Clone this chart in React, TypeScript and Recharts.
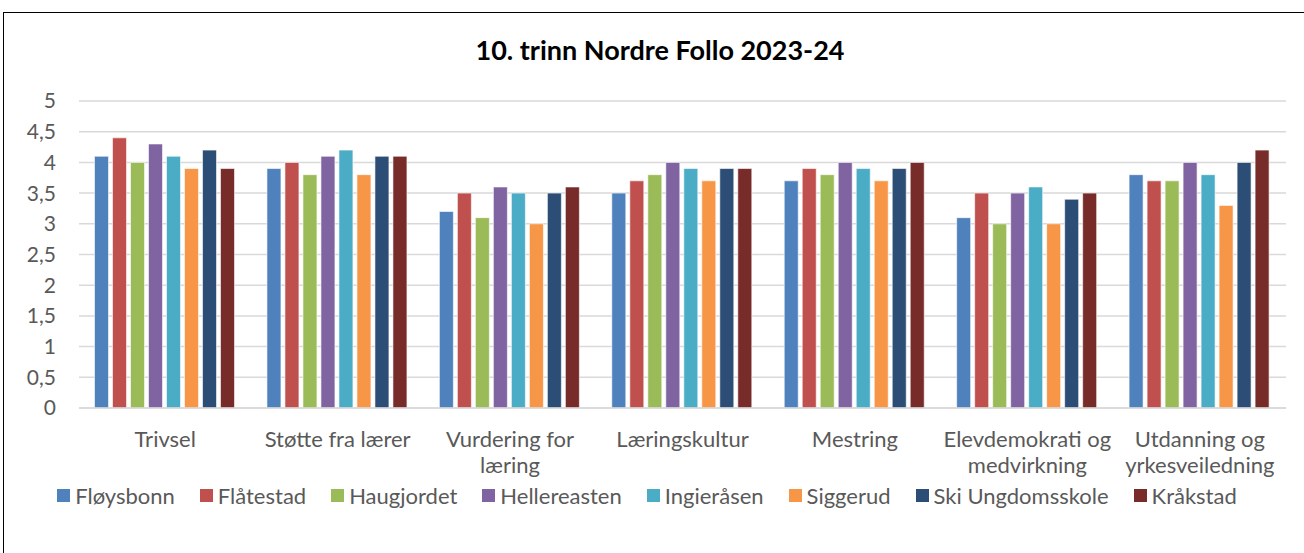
import { Bar, BarChart, CartesianGrid, Legend, XAxis, YAxis } from "recharts"

const categories = [
  "Trivsel",
  "Støtte fra lærer",
  "Vurdering for læring",
  "Læringskultur",
  "Mestring",
  "Elevdemokrati og medvirkning",
  "Utdanning og yrkesveiledning",
]

// how the category labels wrap on the axis
const categoryLines = [
  ["Trivsel"],
  ["Støtte fra lærer"],
  ["Vurdering for", "læring"],
  ["Læringskultur"],
  ["Mestring"],
  ["Elevdemokrati og", "medvirkning"],
  ["Utdanning og", "yrkesveiledning"],
]

const schools = [
  "Fløysbonn",
  "Flåtestad",
  "Haugjordet",
  "Hellereasten",
  "Ingieråsen",
  "Siggerud",
  "Ski Ungdomsskole",
  "Kråkstad",
]

const colors = ["#4F81BD", "#C0504D", "#9BBB59", "#8064A2", "#4BACC6", "#F79646", "#2C4D75", "#772C2A"]

// one list per school, in category order
const floysbonn = [4.1, 3.9, 3.2, 3.5, 3.7, 3.1, 3.8]
const flatestad = [4.4, 4.0, 3.5, 3.7, 3.9, 3.5, 3.7]
const haugjordet = [4.0, 3.8, 3.1, 3.8, 3.8, 3.0, 3.7]
const hellereasten = [4.3, 4.1, 3.6, 4.0, 4.0, 3.5, 4.0]
const ingierasen = [4.1, 4.2, 3.5, 3.9, 3.9, 3.6, 3.8]
const siggerud = [3.9, 3.8, 3.0, 3.7, 3.7, 3.0, 3.3]
const skiUngdomsskole = [4.2, 4.1, 3.5, 3.9, 3.9, 3.4, 4.0]
const krakstad = [3.9, 4.1, 3.6, 3.9, 4.0, 3.5, 4.2]

const yTicks = [0, 0.5, 1, 1.5, 2, 2.5, 3, 3.5, 4, 4.5, 5]

const seriesValues = [floysbonn, flatestad, haugjordet, hellereasten, ingierasen, siggerud, skiUngdomsskole, krakstad]

const data = categories.map((name, i) => {
  const row: any = { name }
  schools.forEach((s, j) => {
    row[s] = seriesValues[j][i]
  })
  return row
})

const FONT = "Lato, 'Noto Sans', sans-serif"

const CategoryTick = ({ x, y, payload }: any) => {
  const lines = categoryLines[categories.indexOf(payload.value)] || [payload.value]
  return (
    <text x={x} y={y} textAnchor="middle" fill="#595959" fontSize={22} fontFamily={FONT}>
      {lines.map((line, i) => (
        <tspan key={i} x={x} dy={i === 0 ? "0.71em" : 26}>
          {line}
        </tspan>
      ))}
    </text>
  )
}

const LegendContent = () => (
  <div
    style={{
      display: "flex",
      justifyContent: "center",
      gap: 25,
      fontFamily: FONT,
      fontSize: 22,
      color: "#595959",
      paddingLeft: 8,
      whiteSpace: "nowrap",
    }}
  >
    {schools.map((s, i) => (
      <div key={s} style={{ display: "flex", alignItems: "center", gap: 5 }}>
        <span style={{ width: 13, height: 13, background: colors[i], display: "inline-block" }} />
        <span>{s}</span>
      </div>
    ))}
  </div>
)

export default function App() {
  return (
    <div style={{ position: "absolute", left: 0, top: 0, width: 1304, height: 553, overflow: "hidden", background: "#fff" }}>
      <div
        style={{
          position: "absolute",
          left: 3,
          top: 12,
          width: 1320,
          height: 600,
          border: "1.5px solid #000",
        }}
      />
      <div
        style={{
          position: "absolute",
          top: 33,
          left: 8,
          width: 1304,
          textAlign: "center",
          fontFamily: FONT,
          fontWeight: "bold",
          fontSize: 27,
          color: "#000",
        }}
      >
        10. trinn Nordre Follo 2023-24
      </div>
      <BarChart
        width={1304}
        height={553}
        data={data}
        margin={{ top: 101, right: 18, left: 0, bottom: 45 }}
        barCategoryGap="9%"
        barGap={4}
        style={{ position: "absolute", left: 0, top: 0 }}
      >
        <CartesianGrid vertical={false} stroke="#D9D9D9" strokeWidth={1.5} />
        <XAxis
          dataKey="name"
          height={74}
          tick={<CategoryTick />}
          tickLine={false}
          tickMargin={17}
          axisLine={{ stroke: "#D9D9D9", strokeWidth: 1.5 }}
          interval={0}
        />
        <YAxis
          width={79}
          domain={[0, 5]}
          ticks={yTicks}
          tickFormatter={(v: number) => String(v).replace(".", ",")}
          tick={{ fill: "#595959", fontSize: 21, fontFamily: FONT }}
          tickLine={false}
          axisLine={false}
          tickMargin={17}
        />
        <Legend verticalAlign="bottom" height={26} content={<LegendContent />} />
        {schools.map((s, i) => (
          <Bar key={s} dataKey={s} fill={colors[i]} stroke="#ffffff" strokeWidth={0.6} isAnimationActive={false} />
        ))}
      </BarChart>
    </div>
  )
}
